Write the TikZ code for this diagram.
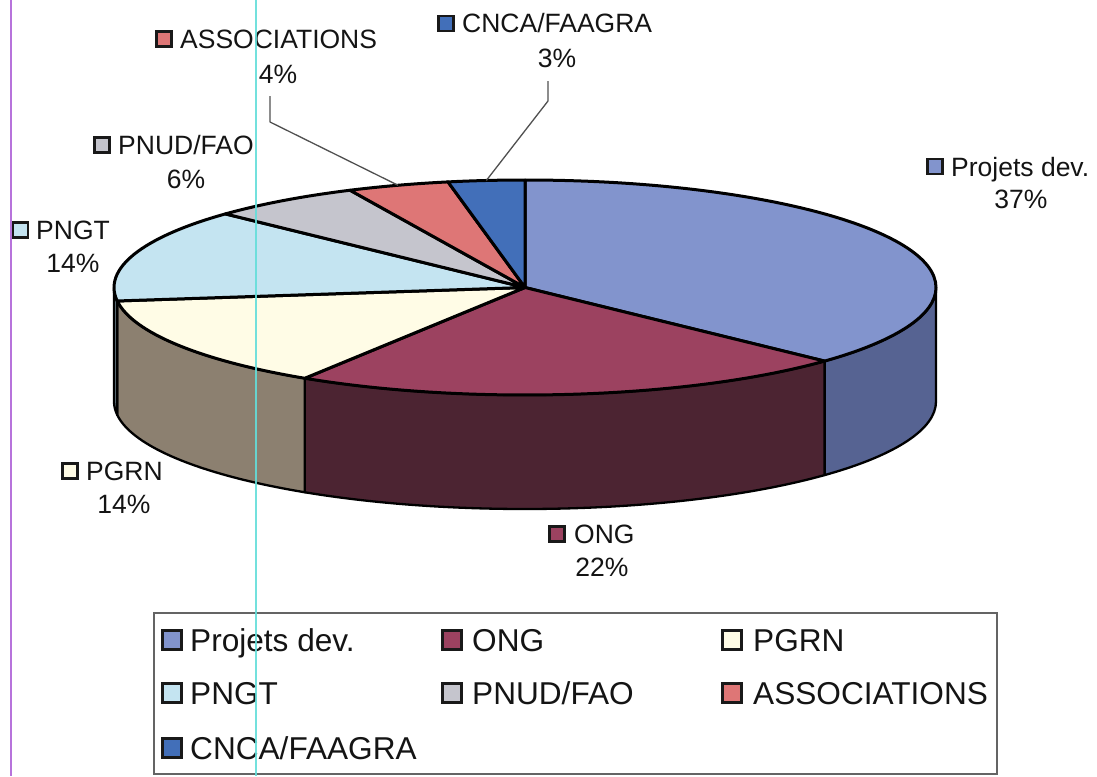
\documentclass[tikz,border=0pt]{standalone}
\usepackage{fontspec}
\setmainfont{Liberation Sans}
\definecolor{projT}{RGB}{130,148,205}
\definecolor{projS}{RGB}{86,99,146}
\definecolor{ongT}{RGB}{156,66,96}
\definecolor{ongS}{RGB}{76,36,50}
\definecolor{pgrnT}{RGB}{255,252,230}
\definecolor{pgrnS}{RGB}{140,128,112}
\definecolor{pngtT}{RGB}{196,228,241}
\definecolor{pngtS}{RGB}{100,118,128}
\definecolor{pnudT}{RGB}{197,197,205}
\definecolor{assocT}{RGB}{222,118,118}
\definecolor{cncaT}{RGB}{66,111,185}
\definecolor{txt}{RGB}{20,20,20}
\definecolor{leadc}{RGB}{80,80,80}
\definecolor{lgdbox}{RGB}{100,100,100}
\definecolor{violetline}{RGB}{176,100,216}
\definecolor{cyanline}{RGB}{100,222,218}
\def\cx{525}\def\cy{-287.5}\def\rx{411}\def\ry{107.5}\def\dep{114}
\newcommand\pieTop[3]{\filldraw[fill=#1,topedge] (\cx,\cy) -- ([shift={(\cx,\cy)}]#2:\rx pt and \ry pt) arc[start angle=#2,end angle=#3,x radius=\rx pt,y radius=\ry pt] -- cycle;}
\newcommand\pieSide[3]{\filldraw[fill=#1,sideedge] ([shift={(\cx,\cy)}]#2:\rx pt and \ry pt) arc[start angle=#2,end angle=#3,x radius=\rx pt,y radius=\ry pt] -- ++(0,-\dep) arc[start angle=#3,end angle=#2,x radius=\rx pt,y radius=\ry pt] -- cycle;}
\begin{document}
\begin{tikzpicture}[x=1pt,y=1pt,
  topedge/.style={draw=black,line width=3pt,line join=round},
  sideedge/.style={draw=black,line width=2.3pt,line join=round},
  lbl/.style={font=\fontsize{26.5}{30}\selectfont,text=txt,inner sep=0pt},
  lgd/.style={font=\fontsize{31.6}{36}\selectfont,text=txt,inner sep=0pt},
  keysq/.style={draw=black!90,line width=2.4pt,minimum size=15pt,inner sep=0pt},
  lgdsq/.style={draw=black!90,line width=2.6pt,minimum size=18.5pt,inner sep=0pt},
  leader/.style={draw=leadc,line width=1.3pt,line join=round},
  artline/.style={line width=2pt,opacity=0.9}]
\useasboundingbox (0,0) rectangle (1097,-776);
\fill[white] (0,0) rectangle (1097,-776);
% side faces
\pieSide{projS}{0}{-43.2}
\pieSide{ongS}{-43.2}{-122.4}
\pieSide{pgrnS}{-122.4}{-172.8}
\pieSide{pngtS}{-172.8}{-180}
% top faces
\pieTop{projT}{90}{-43.2}
\pieTop{ongT}{-43.2}{-122.4}
\pieTop{pgrnT}{-122.4}{-172.8}
\pieTop{pngtT}{-172.8}{-223.2}
\pieTop{pnudT}{-223.2}{-244.8}
\pieTop{assocT}{-244.8}{-259.2}
\pieTop{cncaT}{-259.2}{-270}
% data labels
\node[keysq,fill=cncaT] (cncaKey) at (446,-23.5) {};
\node[lbl,anchor=base west] (cncaName) at (462,-33) {CNCA/FAAGRA};
\node[lbl,anchor=base] (cncaPct) at (557,-67) {3\%};
\node[keysq,fill=assocT] (assocKey) at (164,-39) {};
\node[lbl,anchor=base west] (assocName) at (180,-48.5) {ASSOCIATIONS};
\node[lbl,anchor=base] (assocPct) at (278,-83) {4\%};
\node[keysq,fill=pnudT] (pnudKey) at (102,-145) {};
\node[lbl,anchor=base west] (pnudName) at (118,-154.5) {PNUD/FAO};
\node[lbl,anchor=base] (pnudPct) at (186,-188.5) {6\%};
\node[keysq,fill=pngtT] (pngtKey) at (20.5,-230) {};
\node[lbl,anchor=base west] (pngtName) at (36,-239.5) {PNGT};
\node[lbl,anchor=base] (pngtPct) at (73,-272.5) {14\%};
\node[keysq,fill=projT] (projKey) at (935,-166.5) {};
\node[lbl,anchor=base west] (projName) at (951,-176) {Projets dev.};
\node[lbl,anchor=base] (projPct) at (1021,-208.5) {37\%};
\node[keysq,fill=pgrnT] (pgrnKey) at (70,-471) {};
\node[lbl,anchor=base west] (pgrnName) at (86,-480.5) {PGRN};
\node[lbl,anchor=base] (pgrnPct) at (124,-513.5) {14\%};
\node[keysq,fill=ongT] (ongKey) at (557,-534) {};
\node[lbl,anchor=base west] (ongName) at (574,-543.5) {ONG};
\node[lbl,anchor=base] (ongPct) at (602,-576.5) {22\%};
% leader lines
\coordinate (assocStart) at (270,-96);
\coordinate (assocBend) at (270,-122);
\coordinate (assocTip) at ([shift={(\cx,\cy)}]108:\rx pt and \ry pt);
\draw[leader] (assocStart) -- (assocBend) -- (assocTip);
\coordinate (cncaStart) at (548,-81);
\coordinate (cncaBend) at (548,-101);
\coordinate (cncaTip) at ([shift={(\cx,\cy)}]95.4:\rx pt and \ry pt);
\draw[leader] (cncaStart) -- (cncaBend) -- (cncaTip);
% legend
\node[draw=lgdbox,line width=1.6pt,minimum width=843pt,minimum height=161pt,anchor=north west,inner sep=0pt] (legend) at (153,-612) {};
\node[lgdsq,fill=projT] (lgProjKey) at (172,-640) {};
\node[lgd,anchor=base west] (lgProj) at (190,-651.3) {Projets dev.};
\node[lgdsq,fill=ongT] (lgOngKey) at (452,-640) {};
\node[lgd,anchor=base west] (lgOng) at (472,-651.3) {ONG};
\node[lgdsq,fill=pgrnT] (lgPgrnKey) at (732,-640) {};
\node[lgd,anchor=base west] (lgPgrn) at (753,-651.3) {PGRN};
\node[lgdsq,fill=pngtT] (lgPngtKey) at (172,-693) {};
\node[lgd,anchor=base west] (lgPngt) at (190,-704.3) {PNGT};
\node[lgdsq,fill=pnudT] (lgPnudKey) at (452,-693) {};
\node[lgd,anchor=base west] (lgPnud) at (472,-704.3) {PNUD/FAO};
\node[lgdsq,fill=assocT] (lgAssocKey) at (732,-693) {};
\node[lgd,anchor=base west] (lgAssoc) at (753,-704.3) {ASSOCIATIONS};
\node[lgdsq,fill=cncaT] (lgCncaKey) at (172,-748) {};
\node[lgd,anchor=base west] (lgCnca) at (190,-759.3) {CNCA/FAAGRA};
% scan guide lines
\coordinate (vTop) at (10.5,0);
\coordinate (vBot) at (10.5,-776);
\draw[artline,draw=violetline] (vTop) -- (vBot);
\coordinate (cTop) at (255.5,0);
\coordinate (cBot) at (255.5,-776);
\draw[artline,draw=cyanline] (cTop) -- (cBot);
\end{tikzpicture}
\end{document}
